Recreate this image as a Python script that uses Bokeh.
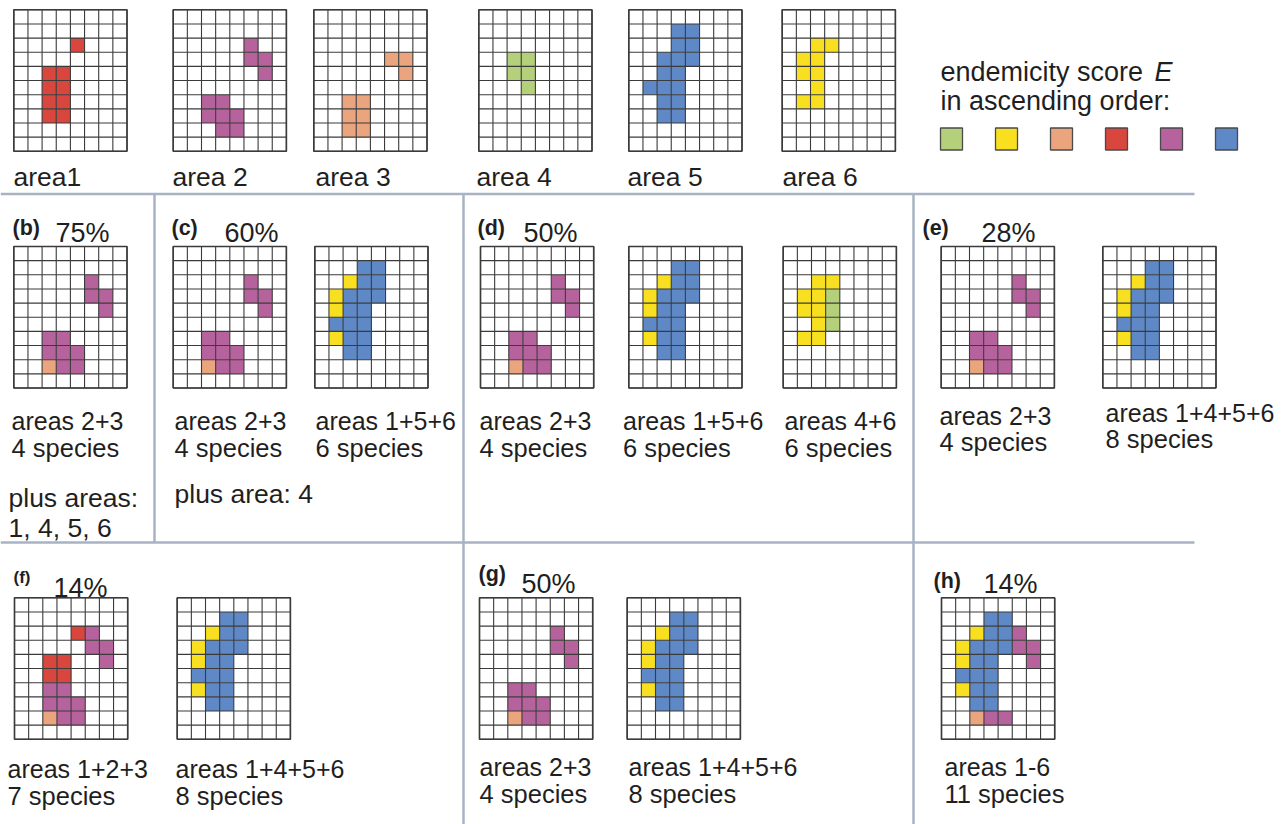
from bokeh.plotting import figure
from bokeh.models import Range1d, ColumnDataSource
from bokeh.embed import file_html
from bokeh.resources import INLINE
from bokeh.core.properties import value

# ---------------- data ----------------
# cells are (column, row) in an 8 x 10 grid, row 0 at the top
AREA1 = [(4, 2), (2, 4), (3, 4), (2, 5), (3, 5), (2, 6), (3, 6), (2, 7), (3, 7)]
AREA2 = [(5, 2), (5, 3), (6, 3), (6, 4), (2, 6), (3, 6), (2, 7), (3, 7), (4, 7), (3, 8), (4, 8)]
AREA3 = [(5, 3), (6, 3), (6, 4), (2, 6), (3, 6), (2, 7), (3, 7), (2, 8), (3, 8)]
AREA4 = [(2, 3), (3, 3), (2, 4), (3, 4), (3, 5)]
AREA5 = [(3, 1), (4, 1), (3, 2), (4, 2), (2, 3), (3, 3), (4, 3), (2, 4), (3, 4),
         (1, 5), (2, 5), (3, 5), (2, 6), (3, 6), (2, 7), (3, 7)]
AREA6 = [(2, 2), (3, 2), (1, 3), (2, 3), (1, 4), (2, 4), (2, 5), (1, 6), (2, 6)]
AREAS = {1: AREA1, 2: AREA2, 3: AREA3, 4: AREA4, 5: AREA5, 6: AREA6}

E_ORDER = [4, 6, 3, 1, 2, 5]          # endemicity score E, ascending
AREA_COLORS = {4: "#b4d07b", 6: "#f8e020", 3: "#eba57e", 1: "#d8463e", 2: "#b6639d", 5: "#5f88c6"}

# area combinations drawn in each grid (top row, then panels b..h)
COMBOS = [[1], [2], [3], [4], [5], [6],
          [2, 3],
          [2, 3], [1, 5, 6],
          [2, 3], [1, 5, 6], [4, 6],
          [2, 3], [1, 4, 5, 6],
          [1, 2, 3], [1, 4, 5, 6],
          [2, 3], [1, 4, 5, 6],
          [1, 2, 3, 4, 5, 6]]
UNSHADED = {18: [(4, 7)]}             # cell left white in panel (h)

TOP_LABELS = ["area1", "area 2", "area 3", "area 4", "area 5", "area 6"]
PANEL_LETTERS = ["(b)", "(c)", "(d)", "(e)", "(f)", "(g)", "(h)"]
PANEL_PERCENTS = ["75%", "60%", "50%", "28%", "14%", "50%", "14%"]
GRID_LABELS = [("areas 2+3", "4 species"),
               ("areas 2+3", "4 species"), ("areas 1+5+6", "6 species"),
               ("areas 2+3", "4 species"), ("areas 1+5+6", "6 species"), ("areas 4+6", "6 species"),
               ("areas 2+3", "4 species"), ("areas 1+4+5+6", "8 species"),
               ("areas 1+2+3", "7 species"), ("areas 1+4+5+6", "8 species"),
               ("areas 2+3", "4 species"), ("areas 1+4+5+6", "8 species"),
               ("areas 1-6", "11 species")]
EXTRA_NOTES = ["plus areas:", "1, 4, 5, 6", "plus area: 4"]
LEGEND_TITLE = ["endemicity score ", "E", "in ascending order:"]

# ---------------- layout ----------------
W, H = 1285, 824
S = 14.15
NC, NR = 8, 10
FONT = value("Liberation Sans")
TXT = "#1f1f1f"

GRID_POS = [(13.3, 9.3), (172.7, 9.3), (313.3, 9.3), (478.3, 9.3), (628.3, 9.3), (781.7, 9.3),
            (13.3, 246),
            (172.7, 246), (314.3, 246),
            (480, 246), (628.3, 246), (782.7, 246),
            (940.7, 246), (1102.3, 246),
            (14, 597.3), (176.7, 597.3),
            (479, 597.3), (626.7, 597.3),
            (941, 597.3)]
TOP_LABEL_POS = [(13, 176.5), (172, 176.5), (315, 176.5), (476, 176.5), (627, 176.5), (782, 176.5)]
LETTER_POS = [(12, 227, 21.5), (171, 227, 21.5), (477, 227, 21.5), (922, 227, 21.5),
              (13, 577, 17), (478, 573, 21.5), (933, 580, 21.5)]
PCT_POS = [(55, 232), (224, 232), (523, 232), (981, 232), (53, 587), (521, 583.5), (983, 583)]
GRID_LABEL_POS = [(11, 420, 447),
                  (174, 420, 447), (315, 420, 447),
                  (479, 420, 447), (622.5, 420, 447), (784, 420, 447),
                  (939, 415, 441), (1105, 412, 438),
                  (7, 768, 795), (175, 768, 795),
                  (479, 766.5, 793), (628, 766.5, 793),
                  (944, 766.5, 793)]
EXTRA_POS = [(8, 497), (8, 527), (174, 493)]

p = figure(width=W, height=H, x_range=Range1d(0, W), y_range=Range1d(H, 0),
           output_backend="svg", toolbar_location=None, min_border=0,
           x_axis_location=None, y_axis_location=None)
p.grid.visible = False
p.outline_line_color = None
p.background_fill_color = "white"
p.border_fill_color = "white"

rank = {a: i for i, a in enumerate(E_ORDER)}

# separators
sep_col = "#a7b3c4"
p.segment(x0=[0, 0, 154, 463, 913], y0=[193.5, 542, 193.5, 193.5, 193.5],
          x1=[1194, 1194, 154, 463, 913], y1=[193.5, 542, 542, 824, 824],
          line_color=sep_col, line_width=2.5)

# grids
for gi, (combo, (gx, gy)) in enumerate(zip(COMBOS, GRID_POS)):
    best = {}
    for a in combo:
        for c in AREAS[a]:
            if c not in best or rank[a] > rank[best[c]]:
                best[c] = a
    for c in UNSHADED.get(gi, []):
        best.pop(c, None)
    cells = sorted(best.items())
    src = ColumnDataSource(dict(
        left=[gx + c[0] * S for c, a in cells],
        right=[gx + (c[0] + 1) * S for c, a in cells],
        top=[gy + c[1] * S for c, a in cells],
        bottom=[gy + (c[1] + 1) * S for c, a in cells],
        color=[AREA_COLORS[a] for c, a in cells]))
    p.quad(left="left", right="right", top="top", bottom="bottom", fill_color="color",
           line_color=None, source=src)
    xs = [gx + i * S for i in range(NC + 1)]
    ys = [gy + j * S for j in range(NR + 1)]
    p.segment(x0=xs + [gx] * len(ys), y0=[gy] * len(xs) + ys,
              x1=xs + [gx + NC * S] * len(ys), y1=[gy + NR * S] * len(xs) + ys,
              line_color="#3b3b3b", line_width=1.1)
    p.rect(x=[gx + NC * S / 2], y=[gy + NR * S / 2], width=NC * S, height=NR * S,
           fill_color=None, line_color="#3b3b3b", line_width=1.6)

def txt(x, y, t, size, style="normal", color=TXT):
    p.text(x=[x], y=[y], text=[t], text_font=FONT, text_font_size=f"{size}px",
           text_font_style=style, text_color=color, text_baseline="alphabetic",
           text_align="left")

for t, (x, y) in zip(TOP_LABELS, TOP_LABEL_POS):
    txt(x, y, t, 26.5)
for t, (x, y, s) in zip(PANEL_LETTERS, LETTER_POS):
    txt(x, y, t, s, "bold")
for t, (x, y) in zip(PANEL_PERCENTS, PCT_POS):
    txt(x, y, t, 27)
for (l1, l2), (x, y1, y2) in zip(GRID_LABELS, GRID_LABEL_POS):
    txt(x, y1, l1, 25)
    txt(x, y2, l2, 25.5)
for t, (x, y) in zip(EXTRA_NOTES, EXTRA_POS):
    txt(x, y, t, 26.5)

# legend
txt(940, 71, LEGEND_TITLE[0], 27)
txt(1154, 71, LEGEND_TITLE[1], 27, "italic")
txt(940, 100, LEGEND_TITLE[2], 27)
leg = ColumnDataSource(dict(x=[951 + 55 * i for i in range(len(E_ORDER))],
                            y=[138.5] * len(E_ORDER),
                            color=[AREA_COLORS[a] for a in E_ORDER]))
p.rect(x="x", y="y", width=22, height=22, fill_color="color", line_color="#4a4a4a",
       line_width=1.3, source=leg)

open("out.html", "w").write(file_html(p, INLINE))
